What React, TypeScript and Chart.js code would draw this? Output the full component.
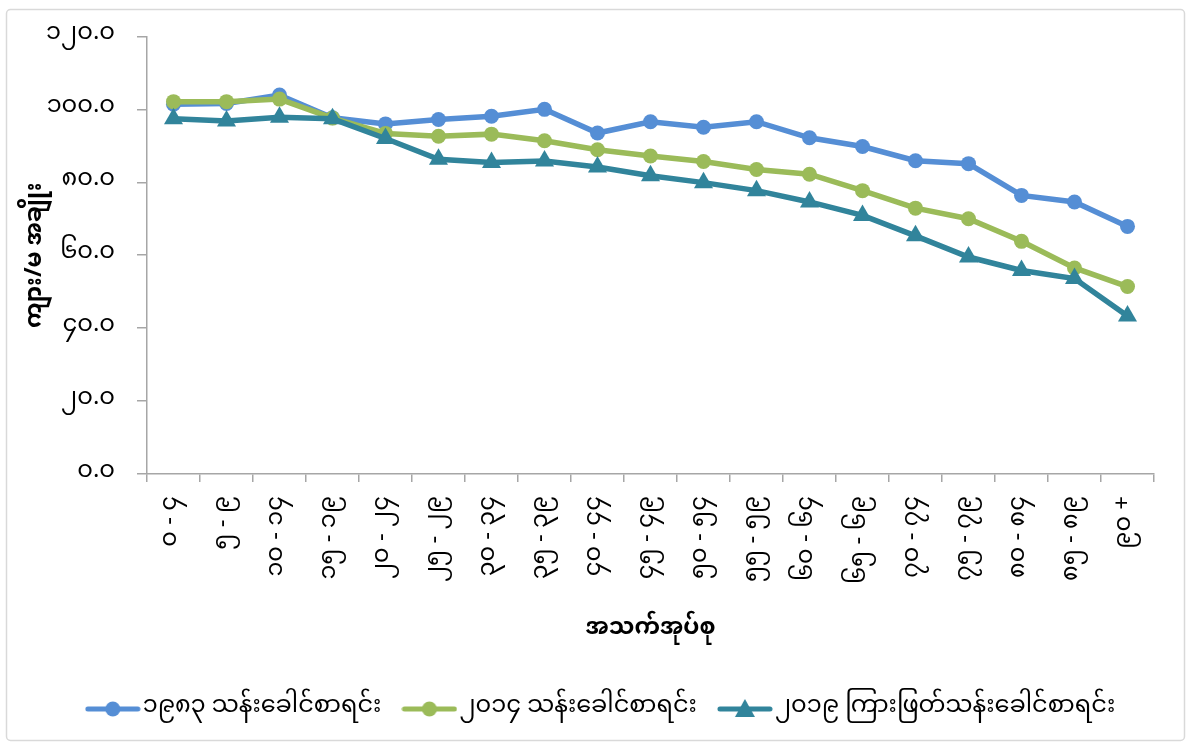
import React, { useEffect, useRef } from 'react';
import { Chart, registerables } from 'chart.js';
Chart.register(...registerables);

const categories = ['၀ - ၄', '၅ - ၉', '၁၀ - ၁၄', '၁၅ - ၁၉', '၂၀ - ၂၄', '၂၅ - ၂၉', '၃၀ - ၃၄', '၃၅ - ၃၉', '၄၀ - ၄၄', '၄၅ - ၄၉', '၅၀ - ၅၄', '၅၅ - ၅၉', '၆၀ - ၆၄', '၆၅ - ၆၉', '၇၀ - ၇၄', '၇၅ - ၇၉', '၈၀ - ၈၄', '၈၅ - ၈၉', '၉၀ +'];
const yTickLabels = ['၀.၀', '၂၀.၀', '၄၀.၀', '၆၀.၀', '၈၀.၀', '၁၀၀.၀', '၁၂၀.၀'];
const seriesNames = ['၁၉၈၃ သန်းခေါင်စာရင်း', '၂၀၁၄ သန်းခေါင်စာရင်း', '၂၀၁၉ ကြားဖြတ်သန်းခေါင်စာရင်း'];
const s1983 = [101.4, 101.6, 103.9, 97.7, 96.0, 97.2, 98.1, 100.0, 93.5, 96.6, 95.1, 96.6, 92.2, 89.8, 85.9, 85.1, 76.4, 74.6, 67.9];
const s2014 = [102.1, 102.1, 102.8, 97.6, 93.4, 92.6, 93.2, 91.4, 88.9, 87.2, 85.7, 83.5, 82.2, 77.7, 72.9, 70.0, 63.8, 56.5, 51.4];
const s2019 = [97.4, 96.8, 97.8, 97.4, 92.0, 86.3, 85.4, 85.8, 84.2, 81.8, 79.9, 77.7, 74.6, 70.9, 65.3, 59.5, 55.8, 53.6, 43.3];
const xTitle = 'အသက်အုပ်စု';
const yTitle = 'ကျား/မ အချိုး';

const FONT = "'Noto Sans Myanmar', 'Myanmar Text', Padauk, 'Noto Sans', sans-serif";
const colors = ['#558ED5', '#9BBB59', '#31849B'];
const styles = ['circle', 'circle', 'triangle'];

function legendImage(color: string, style: string) {
  const c = document.createElement('canvas');
  c.width = 56;
  c.height = 22;
  const ctx = c.getContext('2d')!;
  ctx.strokeStyle = color;
  ctx.lineWidth = 5;
  ctx.lineCap = 'round';
  ctx.beginPath();
  ctx.moveTo(3, 11);
  ctx.lineTo(53, 11);
  ctx.stroke();
  ctx.fillStyle = color;
  ctx.beginPath();
  if (style === 'circle') {
    ctx.arc(28, 11, 7.5, 0, Math.PI * 2);
  } else {
    ctx.moveTo(28, 1);
    ctx.lineTo(38, 19);
    ctx.lineTo(18, 19);
    ctx.closePath();
  }
  ctx.fill();
  return c;
}

const frame = {
  id: 'frame',
  beforeDraw(chart: any) {
    const ctx = chart.ctx;
    ctx.save();
    ctx.fillStyle = '#ffffff';
    ctx.fillRect(0, 0, chart.width, chart.height);
    ctx.strokeStyle = '#d9d9d9';
    ctx.lineWidth = 1.5;
    ctx.beginPath();
    (ctx as any).roundRect(6.5, 9.5, 1178, 731, 4);
    ctx.stroke();
    ctx.restore();
  },
};

const legendShift = {
  id: 'legendShift',
  afterLayout(chart: any) {
    const l = chart.legend;
    if (l) {
      l.left += 28;
      l.right += 28;
    }
  },
};

export default function App() {
  const ref = useRef<HTMLCanvasElement>(null);
  useEffect(() => {
    document.body.style.margin = '0';
    const imgs = colors.map((c, i) => legendImage(c, styles[i]));
    const data = [s1983, s2014, s2019];
    const chart = new Chart(ref.current!, {
      type: 'line',
      data: {
        labels: categories,
        datasets: data.map((d, i) => ({
          label: seriesNames[i],
          data: d,
          borderColor: colors[i],
          backgroundColor: colors[i],
          borderWidth: 5.5,
          pointStyle: styles[i],
          pointRadius: styles[i] === 'circle' ? 7.5 : 11,
          pointBorderWidth: 0,
          pointBackgroundColor: colors[i],
          tension: 0,
          order: 3 - i,
        })),
      },
      options: {
        animation: false,
        responsive: false,
        layout: { padding: { left: 0, right: 37, top: 35, bottom: 16 } },
        plugins: {
          tooltip: { enabled: false },
          legend: {
            position: 'bottom',
            labels: {
              usePointStyle: true,
              pointStyleWidth: 36,
              padding: 30,
              color: '#000',
              font: { family: FONT, size: 24 },
              generateLabels: (ch: any) =>
                ch.data.datasets.map((ds: any, i: number) => ({
                  text: ds.label,
                  pointStyle: imgs[i],
                  fillStyle: colors[i],
                  strokeStyle: colors[i],
                  lineWidth: 0,
                  hidden: false,
                  datasetIndex: i,
                  fontColor: '#000',
                })),
            },
          },
        },
        scales: {
          x: {
            offset: true,
            afterFit: (s: any) => { s.height = 193; },
            grid: { display: true, drawOnChartArea: false, offset: true, tickLength: 8, color: '#a6a6a6', lineWidth: 1.5 },
            border: { color: '#a6a6a6', width: 1.5 },
            ticks: { color: '#000', minRotation: 90, maxRotation: 90, autoSkip: false, padding: 14, font: { family: FONT, size: 24 } },
            title: { display: true, text: xTitle, color: '#000', font: { family: FONT, size: 23, weight: 'bold' }, padding: { top: 10, bottom: 22 } },
          },
          y: {
            min: 0,
            max: 120,
            afterFit: (s: any) => { s.width = 147; },
            grid: { display: true, drawOnChartArea: false, tickLength: 10, color: '#a6a6a6', lineWidth: 1.5 },
            border: { color: '#a6a6a6', width: 1.5 },
            ticks: {
              stepSize: 20,
              color: '#000',
              padding: 22,
              font: { family: FONT, size: 24 },
              callback: (v: any) => yTickLabels[Math.round(Number(v) / 20)],
            },
            title: { display: true, text: yTitle, color: '#000', font: { family: FONT, size: 23, weight: 'bold' }, padding: { top: 25, bottom: 0 } },
          },
        },
      },
      plugins: [frame, legendShift],
    } as any);
    return () => chart.destroy();
  }, []);
  return (
    <div style={{ position: 'absolute', left: 0, top: 0, width: 1191, height: 747 }}>
      <canvas ref={ref} width={1191} height={747} style={{ width: 1191, height: 747 }} />
    </div>
  );
}
